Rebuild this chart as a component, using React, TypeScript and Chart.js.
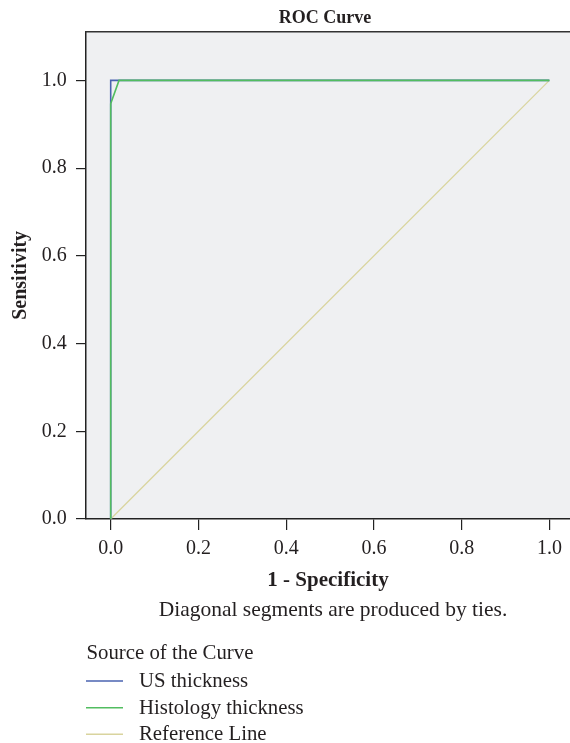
import React, { useEffect, useRef } from "react";
import { Chart, registerables } from "chart.js";

Chart.register(...registerables);

// ---- data ----
const usFpr = [0, 0, 1];
const usTpr = [0, 1, 1];
const histFpr = [0, 0, 0.019, 1];
const histTpr = [0, 0.947, 1, 1];
const refFpr = [0, 1];
const refTpr = [0, 1];
const tickValues = [0, 0.2, 0.4, 0.6, 0.8, 1.0];
const seriesNames = ["US thickness", "Histology thickness", "Reference Line"];
const seriesColors = ["#4a63b0", "#52bd60", "#d9d49e"];
const chartTitle = "ROC Curve";
const xTitle = "1 - Specificity";
const yTitle = "Sensitivity";
const footnote = "Diagonal segments are produced by ties.";
const legendTitle = "Source of the Curve";

const FONT = "'Liberation Serif', 'Times New Roman', serif";
const TEXT = "#231f20";
const W = 570;
const H = 743;

const toPts = (xs: number[], ys: number[]) => xs.map((x, i) => ({ x, y: ys[i] }));

const decorPlugin = {
  id: "decor",
  beforeDraw(chart: any) {
    const { ctx, chartArea: a } = chart;
    ctx.save();
    ctx.fillStyle = "#eff0f2";
    ctx.fillRect(a.left, a.top, a.right - a.left, a.bottom - a.top);
    ctx.restore();
  },
  afterDraw(chart: any) {
    const { ctx, chartArea: a } = chart;
    ctx.save();
    // top frame
    ctx.strokeStyle = "#333";
    ctx.lineWidth = 1.5;
    ctx.beginPath();
    ctx.moveTo(a.left - 0.75, a.top);
    ctx.lineTo(a.right, a.top);
    ctx.stroke();

    ctx.fillStyle = TEXT;
    ctx.textBaseline = "alphabetic";
    // title
    ctx.font = `bold 18px ${FONT}`;
    ctx.textAlign = "center";
    ctx.fillText(chartTitle, 325, 22.7);
    // footnote
    ctx.font = `21.5px ${FONT}`;
    ctx.fillText(footnote, 333, 616);
    // legend
    ctx.textAlign = "left";
    ctx.font = `20.8px ${FONT}`;
    ctx.fillText(legendTitle, 86.5, 658.5);
    const lineYs = [681, 707.7, 734.3];
    seriesNames.forEach((name, i) => {
      ctx.strokeStyle = seriesColors[i];
      ctx.lineWidth = 1.5;
      ctx.beginPath();
      ctx.moveTo(86, lineYs[i]);
      ctx.lineTo(123, lineYs[i]);
      ctx.stroke();
      ctx.fillText(name, 139, lineYs[i] + 5.8);
    });
    ctx.restore();
  },
};

export default function App() {
  const ref = useRef<HTMLCanvasElement>(null);
  useEffect(() => {
    if (!ref.current) return;
    const chart = new Chart(ref.current, {
      type: "scatter",
      data: {
        datasets: [
          {
            label: seriesNames[0],
            data: toPts(usFpr, usTpr),
            borderColor: seriesColors[0],
            backgroundColor: seriesColors[0],
            showLine: true,
            pointRadius: 0,
            borderWidth: 1.6,
            order: 1,
          },
          {
            label: seriesNames[1],
            data: toPts(histFpr, histTpr),
            borderColor: seriesColors[1],
            backgroundColor: seriesColors[1],
            showLine: true,
            pointRadius: 0,
            borderWidth: 1.6,
            order: 0,
          },
          {
            label: seriesNames[2],
            data: toPts(refFpr, refTpr),
            borderColor: seriesColors[2],
            backgroundColor: seriesColors[2],
            showLine: true,
            pointRadius: 0,
            borderWidth: 1.3,
            order: 2,
          },
        ],
      },
      options: {
        responsive: false,
        animation: false,
        layout: { padding: { top: 31.7, left: 0, right: 0, bottom: H - 600 } },
        plugins: {
          legend: { display: false },
          tooltip: { enabled: false },
          title: { display: false },
        },
        scales: {
          x: {
            type: "linear",
            min: -0.0563,
            max: 1.047,
            afterBuildTicks: (s: any) => {
              s.ticks = tickValues.map((v) => ({ value: v }));
            },
            afterFit: (s: any) => {
              s.height = 81;
            },
            grid: {
              display: true,
              drawOnChartArea: false,
              drawTicks: true,
              tickLength: 11,
              color: "#222",
              lineWidth: 1.2,
            },
            border: { display: true, color: "#222", width: 1.5 },
            ticks: {
              padding: 7,
              color: TEXT,
              font: { family: FONT, size: 20 },
              callback: (v: any) => Number(v).toFixed(1),
            },
            title: {
              display: true,
              text: xTitle,
              color: TEXT,
              font: { family: FONT, size: 21, weight: "bold" },
              padding: { top: 0, bottom: 6.5 },
            },
          },
          y: {
            type: "linear",
            min: 0,
            max: 1.111,
            afterBuildTicks: (s: any) => {
              s.ticks = tickValues.map((v) => ({ value: v }));
            },
            afterFit: (s: any) => {
              s.width = 86;
            },
            grid: {
              display: true,
              drawOnChartArea: false,
              drawTicks: true,
              tickLength: 10,
              color: "#222",
              lineWidth: 1.2,
            },
            border: { display: true, color: "#222", width: 1.5 },
            ticks: {
              padding: 9.3,
              color: TEXT,
              font: { family: FONT, size: 20 },
              callback: (v: any) => Number(v).toFixed(1),
            },
            title: {
              display: true,
              text: yTitle,
              color: TEXT,
              font: { family: FONT, size: 20, weight: "bold" },
              padding: { top: 9, bottom: 0 },
            },
          },
        },
      },
      plugins: [decorPlugin],
    } as any);
    return () => chart.destroy();
  }, []);

  return (
    <div style={{ position: "absolute", left: 0, top: 0, width: W, height: H, background: "#fff" }}>
      <canvas ref={ref} width={W} height={H} style={{ display: "block", width: W, height: H }} />
    </div>
  );
}
